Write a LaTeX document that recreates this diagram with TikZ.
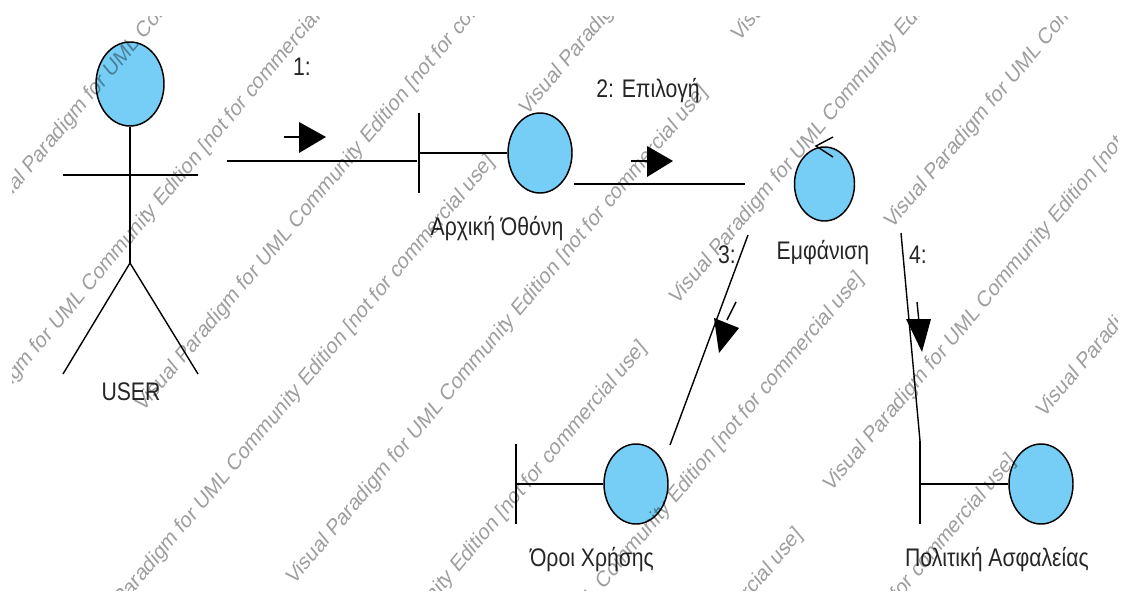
\documentclass[tikz,border=0pt]{standalone}
\usepackage{fontspec}
\setmainfont{Liberation Sans}
\usetikzlibrary{shapes.geometric}
\tikzset{
  orb/.style 2 args={ellipse,draw=black,fill=orbblue,line width=1.1pt,inner sep=0pt,
    minimum width=#1*0.75pt,minimum height=#2*0.75pt},
  ln/.style={draw=black,line width=1.05pt},
  tip/.style={fill=black,draw=none},
  lbl/.style={anchor=base,inner sep=0pt,yscale=1.2,text=black!85,font=\fontsize{15.9}{18}\selectfont},
  wmark/.style={anchor=base west,inner sep=0pt,yscale=1.19,rotate=45,text=black,opacity=.38,
    font=\fontsize{14.3}{17}\selectfont},
}
\definecolor{orbblue}{RGB}{118,205,245}
\newcommand{\wmk}[3]{\node[wmark] (#1) at (#2,-#3) {Visual Paradigm for UML Community Edition [not for commercial use]};}
\begin{document}
\begin{tikzpicture}[x=0.75pt,y=0.75pt]
\useasboundingbox (0,0) rectangle (1124,-592);
\fill[white] (0,0) rectangle (1124,-592);

% actor
\node[orb={68}{84}] (head) at (130,-84) {};
\coordinate (hip) at (130,-263);
\coordinate (armL) at (63,-175);
\coordinate (armR) at (198,-175);
\coordinate (footL) at (63,-374);
\coordinate (footR) at (198,-374);
\draw[ln] (head.south) -- (hip);
\draw[ln] (armL) -- (armR);
\draw[ln] (footL) -- (hip) -- (footR);
\node[lbl] (userlbl) at (131,-400) {USER};

% boundary 1
\node[orb={64}{80}] (b1) at (540,-153) {};
\coordinate (b1top) at (419,-113);
\coordinate (b1bot) at (419,-193);
\coordinate (b1bar) at (419,-153);
\draw[ln] (b1top) -- (b1bot);
\draw[ln] (b1bar) -- (b1.west);
\node[lbl] (b1lbl) at (497,-235) {Αρχική Όθόνη};

% connector 1
\coordinate (c1a) at (227,-161);
\coordinate (c1b) at (417,-161);
\draw[ln] (c1a) -- (c1b);
\coordinate (a1s) at (284,-137);
\coordinate (a1t) at (300,-137);
\draw[ln] (a1s) -- (a1t);
\fill[tip] (299,-122) -- (326,-137) -- (299,-153) -- cycle;
\node[lbl] (m1) at (302,-75) {1:};

% connector 2
\coordinate (c2a) at (574,-184);
\coordinate (c2b) at (745,-184);
\draw[ln] (c2a) -- (c2b);
\coordinate (a2s) at (631,-161);
\coordinate (a2t) at (648,-161);
\draw[ln] (a2s) -- (a2t);
\fill[tip] (647,-146) -- (673,-161) -- (647,-177) -- cycle;
\node[lbl] (m2) at (648,-98) {2: Επιλογή};

% control
\node[orb={60}{74}] (ctl) at (824.5,-184) {};
\coordinate (ct1) at (833,-137);
\coordinate (ct2) at (816,-146);
\coordinate (ct3) at (833,-157);
\draw[ln] (ct1) -- (ct2) -- (ct3);
\node[lbl] (ctllbl) at (823,-259) {Εμφάνιση};

% boundary 3
\node[orb={64}{80}] (b3) at (636,-484) {};
\coordinate (b3top) at (516,-444);
\coordinate (b3bot) at (516,-524);
\coordinate (b3bar) at (516,-484);
\draw[ln] (b3top) -- (b3bot);
\draw[ln] (b3bar) -- (b3.west);
\node[lbl] (b3lbl) at (592,-566) {Όροι Χρήσης};

% connector 3
\coordinate (c3a) at (748,-235);
\coordinate (c3b) at (670,-445);
\draw[ln] (c3a) -- (c3b);
\coordinate (a3s) at (736,-302);
\coordinate (a3t) at (727,-320);
\draw[ln] (a3s) -- (a3t);
\fill[tip] (714,-318) -- (739,-328) -- (719,-353) -- cycle;
\node[lbl] (m3) at (727,-263) {3:};

% boundary 4
\node[orb={64}{80}] (b4) at (1041,-484) {};
\coordinate (b4top) at (920,-441);
\coordinate (b4bot) at (920,-524);
\coordinate (b4bar) at (920,-484);
\draw[ln] (b4top) -- (b4bot);
\draw[ln] (b4bar) -- (b4.west);
\node[lbl] (b4lbl) at (997,-566) {Πολιτική Ασφαλείας};

% connector 4
\coordinate (c4a) at (901,-233);
\draw[ln] (c4a) -- (b4top);
\coordinate (a4s) at (917,-302);
\coordinate (a4t) at (919,-322);
\draw[ln] (a4s) -- (a4t);
\fill[tip] (906,-319) -- (931,-319) -- (922,-352) -- cycle;
\node[lbl] (m4) at (918,-263) {4:};

% watermarks
\begin{scope}
\clip (12,-17) rectangle (1117,-590);
\wmk{w1}{-10}{223}
\wmk{w2}{-64}{476}
\wmk{w3}{81}{656}
\wmk{w4}{143}{413}
\wmk{w5}{294}{586}
\wmk{w6}{233}{842}
\wmk{w7}{450}{773}
\wmk{w8}{527}{117}
\wmk{w9}{739}{43}
\wmk{w10}{677}{306}
\wmk{w11}{892}{230}
\wmk{w12}{831}{493}
\wmk{w13}{1044}{419}
\wmk{w14}{389}{1029}
\wmk{w15}{602}{955}
\end{scope}
\end{tikzpicture}
\end{document}
